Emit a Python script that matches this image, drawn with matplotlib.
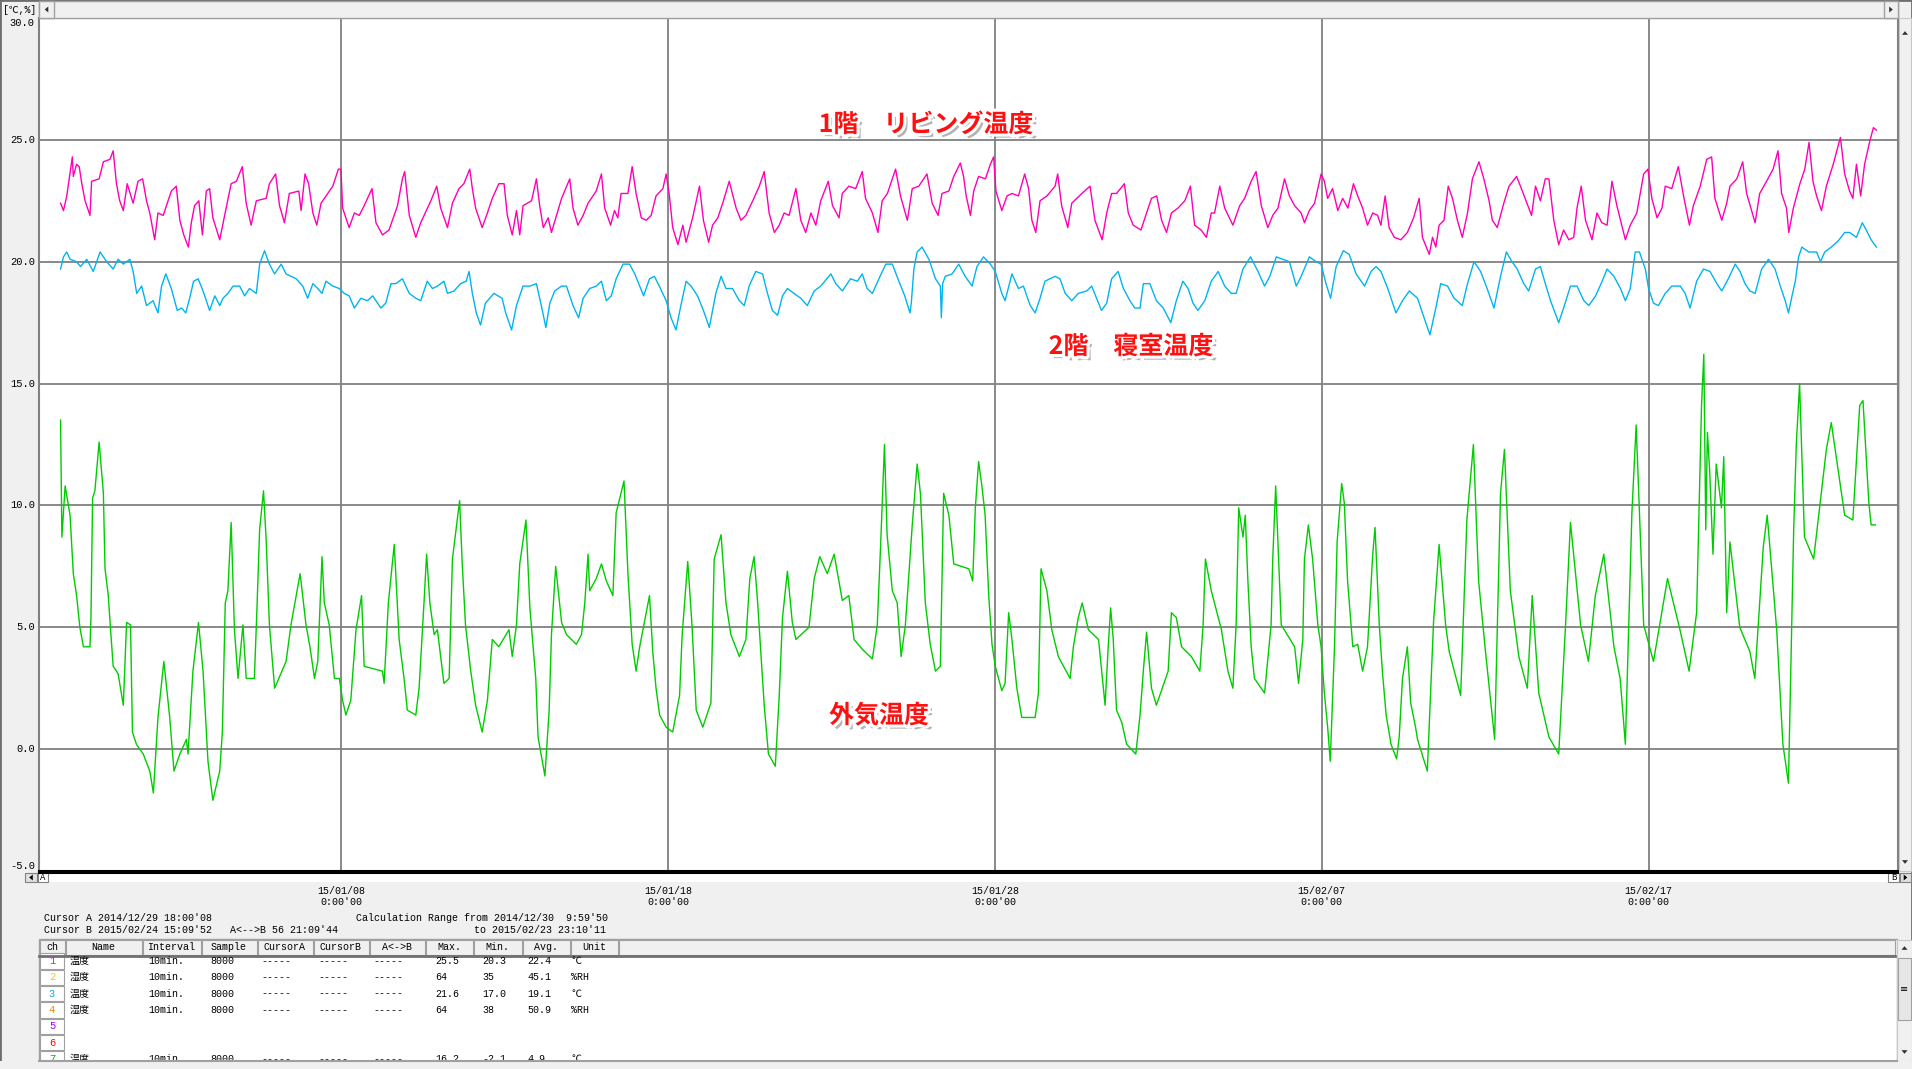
import matplotlib
matplotlib.use('Agg')
import matplotlib.pyplot as plt
import matplotlib.patheffects as pe
from matplotlib.patches import Rectangle, Polygon
from datetime import datetime, timedelta

# ---------------- data (time = days since 2014-12-30 00:00) ----------------
living_t = [0.41,0.50,0.60,0.77,0.80,0.90,0.98,1.06,1.16,1.31,1.36,1.59,1.72,1.92,2.02,2.12,2.22,2.33,2.45,2.63,
            2.78,2.92,3.04,3.14,3.29,3.39,3.55,3.80,3.95,4.06,4.18,4.32,4.41,4.51,4.64,4.75,4.87,4.97,5.07,5.28,
            5.43,5.63,5.79,5.97,6.09,6.24,6.40,6.70,6.80,6.99,7.11,7.26,7.41,7.70,7.77,7.89,8.00,8.13,8.25,8.38,
            8.74,8.91,8.99,9.04,9.24,9.40,9.55,9.70,9.94,10.06,10.26,10.46,10.72,10.87,10.94,11.08,11.28,11.43,11.74,11.92,
            12.04,12.25,12.40,12.60,12.75,12.93,13.01,13.11,13.31,13.47,13.62,13.82,13.98,14.08,14.23,14.36,14.46,14.56,14.82,14.97,
            15.07,15.18,15.33,15.43,15.74,15.99,16.09,16.24,16.40,16.55,16.80,16.96,17.06,17.24,17.36,17.46,17.56,17.77,17.90,18.02,
            18.18,18.33,18.48,18.63,18.84,18.94,19.04,19.14,19.30,19.45,19.55,19.75,19.96,20.08,20.24,20.36,20.52,20.67,20.87,21.08,
            21.23,21.38,21.59,21.79,21.94,22.09,22.25,22.40,22.55,22.70,22.91,23.06,23.21,23.37,23.52,23.67,23.90,24.03,24.23,24.33,
            24.53,24.74,24.94,25.04,25.25,25.42,25.55,25.71,25.96,26.11,26.32,26.47,26.67,26.92,27.08,27.26,27.38,27.59,27.74,27.94,
            28.04,28.12,28.25,28.35,28.50,28.71,28.86,28.96,29.03,29.21,29.37,29.52,29.72,29.91,30.03,30.13,30.25,30.38,30.59,30.84,
            30.92,31.04,31.23,31.35,31.66,31.91,32.06,32.28,32.42,32.57,32.72,32.96,33.08,33.23,33.47,33.59,33.79,33.95,34.10,34.25,
            34.40,34.60,34.81,34.98,35.11,35.31,35.47,35.62,35.72,35.88,36.03,36.28,36.49,36.64,36.84,36.99,37.15,37.35,37.50,37.66,
            37.86,38.01,38.17,38.37,38.47,38.62,38.78,38.98,39.08,39.18,39.33,39.49,39.64,39.80,39.97,40.10,40.25,40.40,40.56,40.71,
            40.81,40.94,41.06,41.22,41.42,41.62,41.81,41.98,42.08,42.29,42.39,42.49,42.59,42.74,42.87,43.00,43.15,43.30,43.46,43.61,
            43.81,43.96,44.12,44.22,44.37,44.57,44.73,44.96,45.08,45.28,45.42,45.54,45.69,45.84,45.95,46.10,46.25,46.40,46.56,46.71,
            46.81,46.94,47.07,47.27,47.42,47.57,47.73,47.88,48.03,48.29,48.44,48.64,48.85,48.98,49.10,49.26,49.41,49.51,49.71,49.91,
            50.07,50.25,50.37,50.58,50.78,50.93,51.03,51.24,51.39,51.49,51.70,51.88,52.00,52.26,52.40,52.61,52.81,52.96,53.07,53.22,
            53.29,53.43,53.63,53.78,53.91,54.03,54.14,54.29,54.44,54.65,54.87,55.00,55.15,55.25,55.36,55.49,55.61,55.76,55.88,55.97]
living_v = [22.4,22.1,22.7,24.3,23.5,24.0,23.9,23.2,22.5,21.9,23.3,23.4,24.1,24.2,24.55,23.2,22.5,22.1,23.2,22.4,
            23.3,23.4,22.5,22.0,20.9,22.0,21.9,22.9,23.1,21.7,21.1,20.6,21.6,22.3,22.5,21.1,22.9,23.0,21.8,20.9,
            21.9,23.2,23.3,23.9,22.4,21.5,22.5,22.6,23.2,23.6,22.3,21.6,22.8,22.9,22.1,23.6,23.2,22.0,21.5,22.4,
            23.1,23.8,23.8,22.2,21.4,22.0,21.9,22.3,23.0,21.6,21.1,21.3,22.3,23.4,23.7,21.9,21.0,21.6,22.5,23.1,
            22.2,21.4,22.4,23.0,23.2,23.8,23.0,22.2,21.4,22.0,22.6,23.2,23.2,21.9,21.1,22.1,21.1,22.3,22.5,23.4,
            22.3,21.4,21.8,21.2,22.6,23.4,22.2,21.5,21.9,22.4,22.9,23.6,22.2,21.5,22.1,21.8,22.8,22.8,23.9,22.8,
            21.8,21.7,21.9,22.7,23.0,23.6,22.7,21.4,20.7,21.5,20.8,21.8,23.1,21.7,20.8,21.5,21.8,22.4,23.3,22.2,
            21.7,21.9,22.5,23.1,23.7,22.0,21.2,21.5,22.0,21.9,23.0,21.7,21.2,22.0,21.5,22.5,23.3,22.3,21.8,22.8,
            23.1,23.0,23.7,22.6,22.0,21.2,22.5,22.8,23.8,22.7,21.7,23.0,23.1,23.6,22.4,21.9,22.8,22.9,23.5,24.05,
            23.5,22.7,21.9,22.9,23.5,23.4,24.0,24.3,22.9,22.1,22.7,22.8,22.7,23.6,23.0,21.7,21.2,22.5,22.7,23.1,
            23.6,22.3,21.4,22.4,22.8,23.1,21.7,20.9,22.0,22.8,22.8,23.2,22.0,21.5,21.3,21.8,22.6,22.7,21.7,21.2,
            22.0,22.2,22.5,23.1,21.5,21.3,21.0,22.0,22.0,23.1,22.2,21.5,22.3,22.6,23.3,23.7,22.3,21.4,21.9,22.2,
            23.4,22.7,22.3,22.0,21.6,22.1,22.4,23.6,23.3,22.6,23.0,22.1,22.6,22.2,23.2,22.7,22.2,21.5,22.0,21.9,
            21.5,22.7,21.4,21.0,20.9,21.2,21.8,22.6,21.0,20.3,21.0,20.6,21.5,21.7,23.1,22.6,21.7,21.0,22.0,23.4,
            24.1,23.4,22.5,21.7,21.4,22.4,23.1,23.5,23.1,22.4,21.9,23.1,22.5,23.4,23.4,21.7,20.7,21.3,20.9,21.0,
            22.2,23.1,21.7,20.9,22.0,21.6,21.5,23.3,22.3,20.9,21.5,22.0,23.6,23.8,22.6,21.8,22.2,23.1,23.0,23.9,
            22.7,21.5,22.3,23.1,24.2,24.3,22.6,21.7,22.4,23.1,23.4,24.1,22.8,21.6,22.8,23.3,23.8,24.55,22.8,22.2,
            21.2,22.2,23.2,23.8,24.9,23.3,22.7,22.1,23.1,24.0,25.1,23.6,22.9,22.6,24.0,22.7,24.0,24.9,25.5,25.4]

bedroom_t = [0.41,0.50,0.60,0.70,0.90,1.02,1.21,1.41,1.62,1.82,2.02,2.17,2.33,2.53,2.63,2.74,2.89,3.04,3.24,3.39,
             3.50,3.63,3.80,3.98,4.11,4.24,4.36,4.48,4.62,4.77,4.97,5.13,5.28,5.38,5.53,5.69,5.89,6.04,6.19,6.40,
             6.50,6.65,6.80,6.96,7.16,7.31,7.62,7.82,7.97,8.13,8.28,8.41,8.53,8.74,8.94,9.09,9.24,9.40,9.60,9.80,
             9.96,10.21,10.36,10.52,10.67,10.87,11.08,11.28,11.43,11.63,11.79,11.94,12.14,12.25,12.45,12.65,12.82,12.91,13.01,13.13,
             13.26,13.41,13.67,13.92,14.03,14.21,14.36,14.56,14.77,14.97,15.12,15.26,15.38,15.53,15.74,15.89,16.09,16.26,16.40,16.60,
             16.80,16.96,17.11,17.26,17.41,17.62,17.82,17.98,18.13,18.25,18.43,18.58,18.73,18.94,19.09,19.24,19.39,19.55,19.70,19.90,
             20.08,20.26,20.46,20.62,20.77,20.97,21.18,21.33,21.48,21.68,21.89,22.04,22.19,22.35,22.50,22.65,22.85,23.06,23.26,23.47,
             23.67,23.98,24.13,24.33,24.58,24.79,24.94,25.09,25.25,25.45,25.66,25.86,26.06,26.24,26.40,26.44,26.52,26.62,26.77,26.98,
             27.18,27.33,27.36,27.40,27.48,27.69,27.89,28.09,28.30,28.45,28.65,28.86,29.01,29.21,29.31,29.52,29.72,29.87,30.08,30.23,
             30.38,30.53,30.84,30.99,31.15,31.35,31.55,31.81,31.96,32.11,32.26,32.42,32.57,32.77,32.93,33.13,33.28,33.44,33.54,33.74,
             33.94,34.15,34.38,34.55,34.75,34.91,35.06,35.21,35.42,35.62,35.83,36.03,36.23,36.38,36.59,36.82,37.05,37.25,37.41,37.61,
             37.81,38.01,38.22,38.37,38.62,38.83,38.98,39.13,39.27,39.44,39.66,39.84,40.05,40.31,40.51,40.66,40.81,41.02,41.27,41.47,
             41.68,41.93,42.08,42.31,42.49,42.64,42.85,43.05,43.30,43.46,43.66,43.86,44.06,44.27,44.47,44.65,44.82,44.98,45.18,45.33,
             45.54,45.69,45.84,46.00,46.25,46.40,46.61,46.81,47.02,47.17,47.38,47.58,47.73,47.94,48.14,48.29,48.44,48.59,48.72,48.90,
             49.00,49.15,49.30,49.51,49.71,49.97,50.12,50.27,50.47,50.68,50.88,51.09,51.24,51.44,51.65,51.80,51.95,52.10,52.26,52.46,
             52.67,52.87,53.03,53.18,53.28,53.39,53.49,53.59,53.69,53.90,54.14,54.26,54.39,54.59,54.80,55.00,55.15,55.36,55.54,55.66,
             55.81,55.97]
bedroom_v = [19.7,20.2,20.4,20.1,20.0,19.8,20.1,19.6,20.4,20.0,19.7,20.1,19.9,20.1,19.6,18.7,19.0,18.2,18.4,17.9,
             19.0,19.5,18.9,18.0,18.1,17.9,18.5,19.2,19.3,18.8,18.0,18.6,18.2,18.5,18.7,19.0,19.0,18.6,18.9,18.7,
             19.9,20.45,19.9,19.5,19.9,19.5,19.3,19.0,18.5,19.1,18.9,18.7,19.2,19.0,18.9,18.7,18.6,18.1,18.5,18.4,
             18.6,18.1,18.3,19.1,19.1,19.3,18.7,18.5,18.4,19.2,18.9,19.0,19.2,18.7,18.8,19.1,19.2,19.6,18.7,17.9,
             17.4,18.3,18.7,18.5,17.9,17.2,18.2,19.0,19.0,19.1,18.2,17.3,18.3,18.8,19.0,19.0,18.2,17.7,18.5,18.9,
             19.0,19.2,18.4,18.6,19.3,19.9,19.9,19.5,19.0,18.6,19.3,19.4,19.0,18.4,17.7,17.2,18.2,19.2,19.0,18.6,
             18.0,17.3,18.7,19.4,18.9,18.9,18.4,18.2,19.0,19.6,19.5,18.7,18.0,17.8,18.6,18.9,18.7,18.5,18.2,18.8,
             19.0,19.5,19.1,18.8,19.3,19.2,19.5,18.9,18.7,19.3,19.9,19.9,19.2,18.6,17.9,18.3,19.7,20.4,20.6,20.1,
             19.3,19.0,17.7,19.1,19.4,19.5,19.9,19.4,19.0,19.8,20.2,19.9,19.6,18.7,18.4,19.5,18.9,19.0,18.2,17.9,
             18.5,19.2,19.4,19.3,18.7,18.4,18.7,18.8,19.0,18.5,18.0,18.3,19.3,19.6,18.9,18.4,18.1,18.1,19.1,19.1,
             18.4,18.1,17.5,18.4,19.2,18.9,18.3,18.0,18.4,19.2,19.6,19.0,18.7,18.7,19.7,20.2,19.6,19.0,19.4,20.2,
             20.1,20.0,19.0,19.4,20.2,20.0,19.9,19.1,18.5,19.8,20.45,20.3,19.5,19.0,19.6,19.8,19.6,18.9,17.9,18.4,
             18.8,18.5,17.9,17.0,18.1,19.1,19.0,18.5,18.2,19.1,20.0,19.6,18.9,18.1,19.4,20.4,20.0,19.7,19.1,18.8,
             19.7,19.8,19.1,18.4,17.5,18.1,19.0,19.0,18.4,18.2,18.6,19.2,19.7,19.4,18.9,18.4,18.9,20.4,20.4,19.7,
             18.9,18.3,18.2,18.7,19.0,19.0,18.7,18.1,19.2,19.7,19.6,19.1,18.8,19.3,19.9,19.6,19.1,18.8,18.7,19.7,
             20.1,19.7,19.0,18.4,17.9,18.6,19.2,20.2,20.6,20.4,20.4,20.0,20.4,20.6,20.85,21.2,21.2,21.0,21.6,21.3,
             20.9,20.6]

outdoor_t = [0.41,0.45,0.55,0.70,0.80,0.90,1.00,1.11,1.31,1.34,1.39,1.46,1.59,1.72,1.77,1.87,1.94,2.02,2.17,2.33,
             2.43,2.55,2.61,2.73,2.94,3.14,3.25,3.39,3.57,3.75,3.88,4.06,4.26,4.31,4.46,4.63,4.77,4.92,5.07,5.28,
             5.36,5.45,5.53,5.63,5.73,5.84,5.99,6.09,6.34,6.42,6.50,6.62,6.70,6.80,6.96,7.31,7.46,7.74,7.92,8.04,
             8.18,8.28,8.41,8.48,8.63,8.79,8.94,9.04,9.14,9.29,9.45,9.62,9.70,10.26,10.31,10.44,10.62,10.77,10.92,11.02,
             11.28,11.38,11.53,11.61,11.71,11.84,11.94,12.14,12.30,12.40,12.62,12.70,12.80,12.96,13.11,13.31,13.47,13.62,13.82,14.13,
             14.23,14.36,14.46,14.65,14.77,14.95,15.02,15.23,15.36,15.43,15.56,15.74,15.89,16.19,16.35,16.45,16.55,16.60,16.80,16.96,
             17.11,17.31,17.41,17.65,17.77,17.90,18.02,18.13,18.43,18.53,18.63,18.74,18.94,19.14,19.35,19.43,19.60,19.73,19.86,20.06,
             20.31,20.41,20.62,20.77,20.92,21.18,21.38,21.50,21.63,21.74,21.94,22.07,22.28,22.40,22.50,22.65,22.80,22.91,23.31,23.47,
             23.64,23.87,24.08,24.33,24.53,24.69,24.94,25.25,25.40,25.50,25.62,25.70,25.86,26.01,26.13,26.26,26.47,26.62,26.72,26.87,
             27.02,27.18,27.33,27.43,27.59,27.74,28.20,28.32,28.40,28.50,28.60,28.70,28.81,28.91,29.01,29.21,29.31,29.42,29.52,29.67,
             29.82,30.23,30.33,30.41,30.59,30.74,30.94,31.30,31.40,31.55,31.67,31.86,32.17,32.37,32.47,32.54,32.62,32.72,32.88,33.03,
             33.31,33.44,33.54,33.64,33.79,33.94,34.30,34.40,34.55,34.71,35.01,35.27,35.37,35.44,35.62,35.93,36.13,36.28,36.38,36.46,
             36.59,36.66,36.74,36.84,36.94,37.25,37.45,37.50,37.59,37.68,37.76,38.17,38.29,38.42,38.47,38.59,38.72,38.88,38.98,39.08,
             39.18,39.26,39.39,39.47,39.61,39.69,39.79,39.95,40.10,40.25,40.40,40.56,40.63,40.76,40.86,40.97,41.12,41.29,41.37,41.47,
             41.62,41.72,41.87,41.93,42.23,42.42,42.59,42.79,42.90,43.25,43.44,43.64,43.80,44.01,44.29,44.47,44.59,44.77,45.03,45.29,
             45.44,45.64,45.95,46.25,46.46,46.61,46.92,47.16,47.37,47.63,47.94,48.13,48.29,48.49,48.62,48.85,49.15,49.58,49.96,50.24,
             50.47,50.62,50.69,50.75,50.80,50.87,50.97,51.07,51.23,51.30,51.39,51.49,51.79,52.10,52.25,52.51,52.63,52.92,53.11,53.28,
             53.44,53.52,53.62,53.77,54.05,54.44,54.59,55.00,55.25,55.46,55.56,55.74,55.81,55.94]
outdoor_v = [13.5,8.7,10.8,9.6,7.2,6.3,5.0,4.2,4.2,5.4,10.3,10.6,12.6,10.5,7.4,6.3,4.9,3.4,3.1,1.8,
             5.2,5.1,0.7,0.2,-0.2,-0.9,-1.8,1.3,3.6,1.3,-0.9,-0.2,0.4,-0.2,3.2,5.2,3.2,-0.5,-2.1,-0.9,
             0.7,6.0,6.5,9.3,4.9,2.9,5.1,2.9,2.9,5.8,9.0,10.6,8.6,5.1,2.5,3.6,5.1,7.2,5.1,4.2,
             2.9,3.6,7.9,6.0,5.1,2.9,2.9,2.0,1.4,2.0,4.9,6.3,3.4,3.2,2.7,6.0,8.4,4.5,2.9,1.6,
             1.4,2.5,6.0,8.0,6.0,4.7,4.9,2.7,2.9,7.8,10.2,7.6,5.1,3.2,1.8,0.7,2.0,4.5,4.2,4.9,
             3.8,5.1,7.6,9.4,5.8,2.9,0.5,-1.1,1.6,4.7,7.5,5.2,4.7,4.3,4.7,6.0,8.0,6.5,7.0,7.6,
             6.9,6.3,9.7,11.0,7.2,4.3,3.2,4.2,6.3,4.0,2.5,1.4,0.9,0.7,2.2,4.7,7.7,5.1,1.6,0.9,
             1.9,7.8,8.8,6.0,4.7,3.8,4.5,7.0,7.9,6.0,1.8,-0.2,-0.7,2.2,5.4,7.3,5.2,4.5,5.0,7.0,
             7.9,7.2,8.0,6.1,6.3,4.5,4.1,3.7,5.1,8.3,12.5,8.8,6.5,6.0,3.8,5.1,9.2,11.7,10.5,6.0,
             4.3,3.2,3.4,10.5,9.6,7.6,7.4,6.9,9.9,11.8,10.8,9.6,6.3,4.3,3.4,2.4,2.7,5.6,4.5,2.5,
             1.3,1.3,2.3,7.4,6.5,4.9,3.8,2.9,4.2,5.4,6.0,4.9,4.5,1.8,4.3,5.8,4.5,1.6,1.1,0.2,
             -0.2,1.4,3.2,4.8,2.5,1.8,3.2,5.6,5.4,4.2,3.8,3.2,5.1,7.8,6.5,4.9,3.2,2.5,5.1,9.9,
             8.7,9.6,6.9,4.2,2.9,2.3,5.1,7.8,10.8,7.8,5.1,4.2,2.7,4.5,7.8,9.2,7.8,5.1,4.2,2.3,
             0.9,-0.5,4.2,8.5,10.9,10.1,6.9,4.2,4.3,3.2,4.2,8.0,9.1,5.1,3.1,1.4,0.2,-0.4,0.5,2.9,
             4.2,1.9,0.9,0.4,-0.9,5.2,8.4,5.1,4.0,2.2,9.4,12.5,6.9,4.0,0.4,10.5,12.3,6.5,3.8,2.5,
             6.3,2.3,0.5,-0.2,5.1,9.3,5.1,3.6,6.3,8.0,4.2,2.9,0.2,9.7,13.3,5.1,3.6,7.0,4.9,3.2,
             5.6,14.1,16.2,9.0,13.0,11.4,8.0,11.7,9.9,12.0,5.6,8.5,5.0,4.0,2.9,8.3,9.6,4.9,0.2,-1.4,
             9.0,12.5,15.0,8.7,7.8,12.3,13.4,9.6,9.4,14.1,14.3,10.1,9.2,9.2]

y_ticks = [30, 25, 20, 15, 10, 5, 0, -5]
y_tick_labels = ['30.0', '25.0', '20.0', '15.0', '10.0', '5.0', '0.0', '-5.0']
x_tick_days = [9, 19, 29, 39, 49]   # 15/01/08 ... 15/02/17
x_tick_labels = ["15/01/08\n0:00'00", "15/01/18\n0:00'00", "15/01/28\n0:00'00",
                 "15/02/07\n0:00'00", "15/02/17\n0:00'00"]

cursor_text_a = "Cursor A 2014/12/29 18:00'08"
cursor_text_b = "Cursor B 2015/02/24 15:09'52   A<-->B 56 21:09'44"
calc_text_a = "Calculation Range from 2014/12/30  9:59'50"
calc_text_b = "to 2015/02/23 23:10'11"

table_headers = ['ch', 'Name', 'Interval', 'Sample', 'CursorA', 'CursorB', 'A<->B', 'Max.', 'Min.', 'Avg.', 'Unit', '']
ch_numbers = ['1', '2', '3', '4', '5', '6', '7']
ch_colors = ['#FF00FF', '#FFC000', '#00B0F0', '#FF8000', '#A000FF', '#FF0000', '#00B000']
ch_names = ['温度', '湿度', '温度', '湿度', '', '', '温度']
ch_interval = ['10min.', '10min.', '10min.', '10min.', '', '', '10min.']
ch_sample = ['8000', '8000', '8000', '8000', '', '', '8000']
ch_cursor = ['-----', '-----', '-----', '-----', '', '', '-----']
ch_max = ['25.5', '64', '21.6', '64', '', '', '16.2']
ch_min = ['20.3', '35', '17.0', '38', '', '', '-2.1']
ch_avg = ['22.4', '45.1', '19.1', '50.9', '', '', '4.9']
ch_unit = ['℃', '%RH', '℃', '%RH', '', '', '℃']

# ---------------- figure ----------------
W, H, DPI = 1912, 1069, 100
T0 = datetime(2014, 12, 30)


def to_dates(days):
    return [T0 + timedelta(days=d) for d in days]


def fx(x):
    return x / W


def fy(y):
    return 1 - y / H


MONO = ['Liberation Mono', 'Noto Sans CJK JP', 'DejaVu Sans']
JP = ['Noto Sans CJK JP', 'DejaVu Sans']

fig = plt.figure(figsize=(W / DPI, H / DPI), dpi=DPI, facecolor='#F0F0F0')


def rect(x0, y0, x1, y1, fc='none', ec='none', lw=1.0, z=1):
    r = Rectangle((fx(x0), fy(y1)), (x1 - x0) / W, (y1 - y0) / H, transform=fig.transFigure,
                  facecolor=fc, edgecolor=ec, linewidth=lw, zorder=z)
    fig.add_artist(r)
    return r


def tri(cx, cy, s, direction, color='#303030', z=5):
    if direction == 'up':
        pts = [(cx - s, cy + s * 0.6), (cx + s, cy + s * 0.6), (cx, cy - s * 0.6)]
    elif direction == 'down':
        pts = [(cx - s, cy - s * 0.6), (cx + s, cy - s * 0.6), (cx, cy + s * 0.6)]
    elif direction == 'left':
        pts = [(cx + s * 0.6, cy - s), (cx + s * 0.6, cy + s), (cx - s * 0.6, cy)]
    else:
        pts = [(cx - s * 0.6, cy - s), (cx - s * 0.6, cy + s), (cx + s * 0.6, cy)]
    p = Polygon([(fx(a), fy(b)) for a, b in pts], closed=True, transform=fig.transFigure,
                facecolor=color, edgecolor='none', zorder=z)
    fig.add_artist(p)


# window outer border
rect(0, 0, 1912, 1069, ec='#6E6E6E', lw=2.0, z=0.5)

# top scrollbar
rect(39, 1, 1898, 18, fc='#F0F0F0', ec='#A0A0A0', lw=1.0)
rect(39, 1, 54, 18, fc='#F0F0F0', ec='#A0A0A0', lw=1.0)
tri(46.5, 9.5, 3, 'left')
rect(1884, 1, 1898, 18, fc='#F0F0F0', ec='#A0A0A0', lw=1.0)
tri(1891, 9.5, 3, 'right')
fig.text(fx(20), fy(10), '[℃,%]', family=MONO, fontsize=7, ha='center', va='center')

# right scrollbar of the graph
rect(1899, 18, 1911, 871, fc='#F0F0F0', ec='#C8C8C8', lw=0.8)
tri(1905, 33, 3, 'up')
tri(1905, 862, 3, 'down')

# main axes
ax = fig.add_axes([fx(39), fy(871), fx(1898) - fx(39), fy(18) - fy(871)])
ax.set_facecolor('white')
ax.plot(to_dates(outdoor_t), outdoor_v, color='#00CC00', lw=1.0, zorder=3)
ax.plot(to_dates(bedroom_t), bedroom_v, color='#00B4F0', lw=1.0, zorder=3)
ax.plot(to_dates(living_t), living_v, color='#FF00B4', lw=1.0, zorder=3)
ax.set_xlim(datetime(2014, 12, 29, 18, 0, 8), datetime(2015, 2, 24, 15, 9, 52))
ax.set_ylim(-5, 30)
ax.set_yticks(y_ticks)
ax.set_yticklabels(y_tick_labels)
ax.set_xticks(to_dates(x_tick_days))
ax.set_xticklabels(x_tick_labels)
ax.grid(True, color='#808080', lw=1.3, zorder=1)
ax.set_axisbelow(True)
ax.tick_params(axis='y', length=0, pad=3, labelsize=7.5)
ax.tick_params(axis='x', length=0, pad=11, labelsize=7.2)
for lab in ax.get_yticklabels():
    lab.set_family(MONO)
    if lab.get_text() == '30.0':
        lab.set_va('top')
    elif lab.get_text() == '-5.0':
        lab.set_va('bottom')
    else:
        lab.set_va('center')
for lab in ax.get_xticklabels():
    lab.set_family(MONO)
    lab.set_linespacing(1.1)
for side in ['top', 'left', 'right']:
    ax.spines[side].set_color('#808080')
    ax.spines[side].set_linewidth(1.5)
ax.spines['bottom'].set_color('#000000')
ax.spines['bottom'].set_linewidth(1.5)

# annotation labels
effects = [pe.SimplePatchShadow(offset=(3, -3), shadow_rgbFace='#777777', alpha=0.55),
           pe.withStroke(linewidth=4.5, foreground='white')]
for txt, (px, py) in [('1階　リビング温度', (926, 125)),
                      ('2階　寝室温度', (1131, 347)),
                      ('外気温度', (879, 716))]:
    fig.text(fx(px), fy(py), txt, family=JP, fontsize=18, fontweight='bold', color='#FF1010',
             ha='center', va='center', path_effects=effects, zorder=6)

# bottom strip with cursor markers
rect(39, 872, 1898, 882, fc='white', ec='none')
fig.add_artist(plt.Line2D([fx(39), fx(1898)], [fy(872.5), fy(872.5)], transform=fig.transFigure,
                          color='black', lw=1.5))
rect(25, 873, 37, 882, fc='#E0E0E0', ec='#808080', lw=0.8)
tri(31, 877.5, 3, 'left', color='black')
rect(38, 873, 48, 882, fc='white', ec='#808080', lw=0.8)
fig.text(fx(43), fy(877.5), 'A', family=MONO, fontsize=6.5, ha='center', va='center')
rect(1888, 873, 1899, 882, fc='white', ec='#808080', lw=0.8)
fig.text(fx(1893.5), fy(877.5), 'B', family=MONO, fontsize=6.5, ha='center', va='center')
rect(1900, 873, 1911, 882, fc='#E0E0E0', ec='#808080', lw=0.8)
tri(1905.5, 877.5, 3, 'right', color='black')

# cursor info texts
fig.text(fx(44), fy(918), cursor_text_a, family=MONO, fontsize=7.2, ha='left', va='center')
fig.text(fx(44), fy(930), cursor_text_b, family=MONO, fontsize=7.2, ha='left', va='center')
fig.text(fx(356), fy(918), calc_text_a, family=MONO, fontsize=7.2, ha='left', va='center')
fig.text(fx(606), fy(930), calc_text_b, family=MONO, fontsize=7.2, ha='right', va='center')

# table
rect(39, 939, 1897, 1061, fc='white', ec='#A0A0A0', lw=1.0)
col_edges = [39, 65, 142, 201, 257, 313, 369, 425, 473, 522, 570, 618, 1895]
for i, name in enumerate(table_headers):
    x0, x1 = col_edges[i], col_edges[i + 1]
    rect(x0 + 0.5, 940, x1 - 0.5, 955, fc='#F0F0F0', ec='#A0A0A0', lw=0.8)
    if name:
        fig.text(fx((x0 + x1) / 2), fy(947.5), name, family=MONO, fontsize=7.2,
                 ha='center', va='center')
fig.add_artist(plt.Line2D([fx(39), fx(1895)], [fy(956), fy(956)], transform=fig.transFigure,
                          color='#707070', lw=2.0))
row_h = 16.3
col_x = [70, 148, 210, 261, 318, 373, 435, 482, 527, 571]
for r in range(len(ch_numbers)):
    yc = 961 + r * row_h
    rect(40, yc - row_h / 2 + 0.5, 64, yc + row_h / 2 - 0.5, fc='white', ec='#A0A0A0', lw=0.8)
    fig.text(fx(52), fy(yc), ch_numbers[r], family=MONO, fontsize=7.5, color=ch_colors[r],
             ha='center', va='center')
    vals = [ch_names[r], ch_interval[r], ch_sample[r], ch_cursor[r], ch_cursor[r], ch_cursor[r],
            ch_max[r], ch_min[r], ch_avg[r], ch_unit[r]]
    for cx, v in zip(col_x, vals):
        if v:
            fam = JP if v in ('温度', '湿度') else MONO
            fig.text(fx(cx), fy(yc), v, family=fam, fontsize=7.2, ha='left', va='center')

# table vertical scrollbar
rect(1897, 940, 1912, 1061, fc='#F0F0F0', ec='#C8C8C8', lw=0.8, z=2)
tri(1904.5, 948, 3, 'up', z=3)
rect(1898, 958, 1911, 1020, fc='#E6E6E6', ec='#A0A0A0', lw=0.8, z=3)
fig.text(fx(1904.5), fy(989), '≡', family=['DejaVu Sans'], fontsize=7, ha='center', va='center', zorder=4)
tri(1904.5, 1052, 3, 'down', z=3)

# clip bottom of table (last row partially hidden)
rect(0, 1061, 1912, 1069, fc='#F0F0F0', ec='none', z=10)
fig.add_artist(plt.Line2D([fx(39), fx(1897)], [fy(1061), fy(1061)], transform=fig.transFigure,
                          color='#A0A0A0', lw=1.5, zorder=11))

fig.savefig('out.png', dpi=DPI, facecolor=fig.get_facecolor())
